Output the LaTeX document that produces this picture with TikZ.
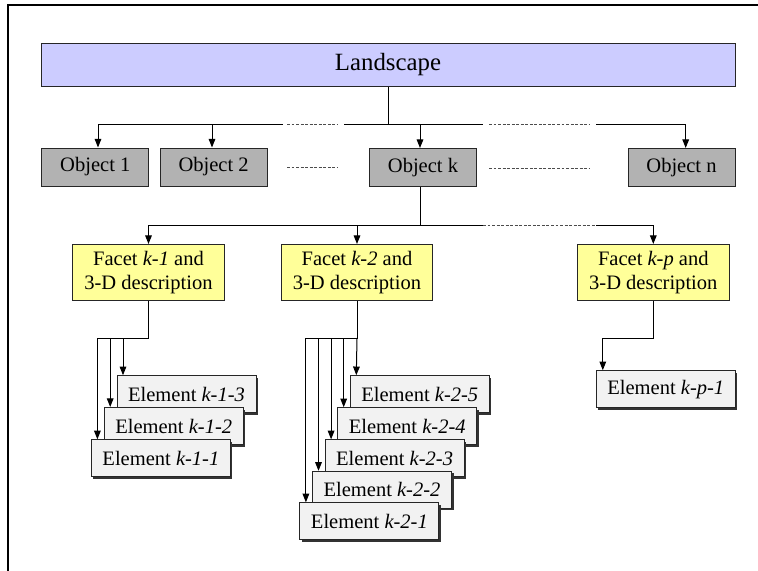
\documentclass[tikz,border=0pt]{standalone}
\usepackage{fontspec}
\setmainfont{Liberation Serif}
\usetikzlibrary{arrows.meta,shadows}
\newdimen\pxu \pxu=0.75pt
\begin{document}
\begin{tikzpicture}[x=0.75pt,y=-0.75pt,
  box/.style={draw=black!85, line width=0.75pt, inner sep=0pt, align=center,
    font=\fontsize{15.4}{18.5}\selectfont},
  landbox/.style={box, fill={rgb,255:red,204;green,204;blue,255},
    minimum width=694*\pxu, minimum height=43*\pxu, font=\fontsize{18.6}{22}\selectfont},
  objbox/.style={box, fill={rgb,255:red,178;green,178;blue,178},
    minimum width=107*\pxu, minimum height=38*\pxu},
  facetbox/.style={box, fill={rgb,255:red,255;green,255;blue,153},
    minimum width=151.6*\pxu, minimum height=56*\pxu},
  elembox/.style={box, fill={rgb,255:red,242;green,242;blue,242},
    minimum width=139*\pxu, minimum height=37*\pxu,
    drop shadow={fill=black!80, opacity=1, shadow xshift=1.5pt, shadow yshift=-1.5pt}},
  conn/.style={black, line width=0.75pt},
  arr/.style={conn, -{Triangle[length=6.5pt,width=5pt]}},
  dots/.style={black!70, line width=0.65pt, dash pattern=on 2.2pt off 1.2pt}
]
\useasboundingbox (0,0) rectangle (758,571);
% frame
\draw[line width=1.5pt] (8,571) -- (8,5) -- (758,5);

% nodes
\node[landbox] (land) at (388,64.5) {Landscape};
\node[objbox] (o1) at (95.3,167) {Object 1};
\node[objbox] (o2) at (213.6,167) {Object 2};
\node[objbox] (ok) at (423,167.5) {Object k};
\node[objbox] (on) at (681.5,167.5) {Object n};

\node[facetbox] (f1) at (148.5,272.5) {Facet \textit{k-1} and\\3-D description};
\node[facetbox] (f2) at (357,272.5) {Facet \textit{k-2} and\\3-D description};
\node[facetbox] (fp) at (653.3,272.5) {Facet \textit{k-p} and\\3-D description};

\node[elembox] (e13) at (186.5,394.2) {Element \textit{k-1-3}};
\node[elembox] (e12) at (173.7,426) {Element \textit{k-1-2}};
\node[elembox] (e11) at (160.9,458.3) {Element \textit{k-1-1}};

\node[elembox] (e25) at (419.8,394.2) {Element \textit{k-2-5}};
\node[elembox] (e24) at (407.2,426.2) {Element \textit{k-2-4}};
\node[elembox] (e23) at (394.6,458.3) {Element \textit{k-2-3}};
\node[elembox] (e22) at (382,489.8) {Element \textit{k-2-2}};
\node[elembox] (e21) at (369.4,521.3) {Element \textit{k-2-1}};

\node[elembox] (ep1) at (665.8,389.2) {Element \textit{k-p-1}};

% upper bus
\draw[conn] (land.south -| 388.7,0) -- (388.7,124);
\draw[arr] (283,124) -- (98,124) -- (o1.north -| 98,0);
\draw[arr] (212,124) -- (o2.north -| 212,0);
\draw[dots] (287,124) -- (338,124);
\draw[conn] (344,124) -- (483,124);
\draw[arr] (420,124) -- (ok.north -| 420,0);
\draw[dots] (489,124) -- (590,124);
\draw[arr] (596,124) -- (685.7,124) -- (on.north -| 685.7,0);

% dashes between objects
\draw[dots] (287,167.5) -- (338,167.5);
\draw[dots] (489,168) -- (590,168);

% lower bus
\draw[conn] (ok.south -| 420,0) -- (420,225);
\draw[arr] (483,225) -- (148.5,225) -- (f1.north);
\draw[arr] (357,225) -- (f2.north);
\draw[dots] (483,225) -- (596,225);
\draw[arr] (596,225) -- (653.3,225) -- (fp.north);

% branches
\coordinate (br) at (0,338);
\coordinate (t13) at ([xshift=4.875pt]e13.north west);
\coordinate (t12) at ([xshift=4.875pt]e12.north west);
\coordinate (t11) at ([xshift=4.875pt]e11.north west);
\draw[conn] (f1.south) -- (f1.south |- br) -- (t11 |- br);
\draw[arr] (t11 |- br) -- (t11);
\draw[arr] (t12 |- br) -- (t12);
\draw[arr] (t13 |- br) -- (t13);

\coordinate (t25) at ([xshift=4.875pt]e25.north west);
\coordinate (t24) at ([xshift=4.875pt]e24.north west);
\coordinate (t23) at ([xshift=4.875pt]e23.north west);
\coordinate (t22) at ([xshift=4.875pt]e22.north west);
\coordinate (t21) at ([xshift=4.875pt]e21.north west);
\draw[conn] (f2.south) -- (f2.south |- br) -- (t21 |- br);
\draw[arr] (f2.south |- br) -- (t25);
\draw[arr] (t24 |- br) -- (t24);
\draw[arr] (t23 |- br) -- (t23);
\draw[arr] (t22 |- br) -- (t22);
\draw[arr] (t21 |- br) -- (t21);

\coordinate (tp1) at ([xshift=5.25pt]ep1.north west);
\draw[arr] (fp.south) -- (fp.south |- br) -- (tp1 |- br) -- (tp1);
\end{tikzpicture}
\end{document}
